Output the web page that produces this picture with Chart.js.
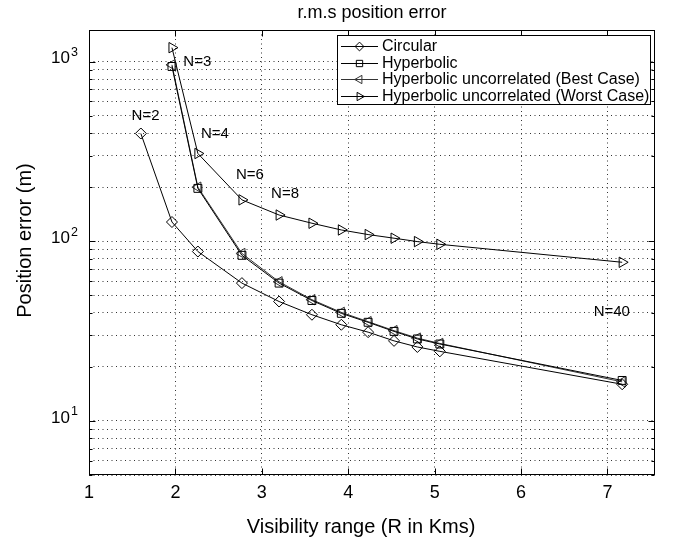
<!DOCTYPE html>
<html>
<head>
<meta charset="utf-8">
<script src="https://cdn.jsdelivr.net/npm/chart.js@4/dist/chart.umd.js"></script>
<style>
html,body{margin:0;padding:0;background:#fff;}
#wrap{width:674px;height:540px;}
</style>
</head>
<body>
<div id="wrap"><canvas id="c" width="674" height="540"></canvas></div>
<script>
// ---- data ----
const rangeKm = [1.6, 1.96, 2.26, 2.77, 3.2, 3.58, 3.92, 4.23, 4.53, 4.8, 5.06, 7.17];
const circularErr   = [398, 128, 87.7, 58.5, 46.2, 39.0, 34.3, 31.2, 27.9, 25.8, 24.4, 16.0];
const hyperbolicErr = [940, 197, 83.5, 58.5, 46.8, 39.7, 35.4, 31.5, 28.6, 26.8, 16.8];
const bestCaseErr   = [960, 200, 85.5, 59.5, 47.3, 40.2, 35.7, 31.8, 28.9, 27.0, 16.5];
const worstCaseErr  = [1196, 308, 170, 140, 126, 115.6, 109, 104, 99.6, 96.2, 76.4];
const seriesNames = ['Circular', 'Hyperbolic', 'Hyperbolic uncorrelated (Best Case)', 'Hyperbolic uncorrelated (Worst Case)'];
const xTickValues = [1, 2, 3, 4, 5, 6, 7];
const yMajorTicks = [10, 100, 1000];
const yExponents = ['1', '2', '3'];
const nLabelTexts = ['N=2', 'N=3', 'N=4', 'N=6', 'N=8', 'N=40'];
const nLabelAtX   = [1.654, 2.253, 2.458, 2.863, 3.269, 7.05];
const nLabelAtY   = [499, 1003, 398, 233, 183, 40.6];
const chartTitle = 'r.m.s position error';
const xTitle = 'Visibility range (R in Kms)';
const yTitle = 'Position error (m)';

const FONT = "'Liberation Sans', Arial, Helvetica, sans-serif";

function toPoints(xs, ys) { return ys.map((v, i) => ({ x: xs[i], y: v })); }
const xFromN3 = rangeKm.slice(1);

function mkDs(label, data, style, rot, radius, color) {
  return {
    label, data,
    borderColor: color, borderWidth: 1,
    pointStyle: style, rotation: rot, pointRadius: radius, pointHoverRadius: radius,
    pointBorderColor: color, pointBackgroundColor: 'rgba(0,0,0,0)', pointBorderWidth: 1,
    tension: 0, fill: false
  };
}

const datasets = [
  mkDs(seriesNames[0], toPoints(rangeKm, circularErr), 'rectRot', 0, 5.5, '#000'),
  mkDs(seriesNames[1], toPoints(xFromN3, hyperbolicErr), 'rect', 0, 5.6, '#000'),
  mkDs(seriesNames[2], toPoints(xFromN3, bestCaseErr), 'triangle', -90, 6, '#333'),
  mkDs(seriesNames[3], toPoints(xFromN3, worstCaseErr), 'triangle', 90, 6, '#000')
];

function drawMarker(ctx, style, rot, r, x, y) {
  ctx.beginPath();
  if (style === 'rectRot') {
    ctx.moveTo(x, y - r); ctx.lineTo(x + r, y); ctx.lineTo(x, y + r); ctx.lineTo(x - r, y); ctx.closePath();
  } else if (style === 'rect') {
    const s = r * Math.SQRT1_2;
    ctx.rect(x - s, y - s, 2 * s, 2 * s);
  } else {
    let rad = rot * Math.PI / 180;
    ctx.moveTo(x + Math.sin(rad) * r, y - Math.cos(rad) * r);
    rad += 2 * Math.PI / 3;
    ctx.lineTo(x + Math.sin(rad) * r, y - Math.cos(rad) * r);
    rad += 2 * Math.PI / 3;
    ctx.lineTo(x + Math.sin(rad) * r, y - Math.cos(rad) * r);
    ctx.closePath();
  }
  ctx.stroke();
}

const decor = {
  id: 'decor',
  afterDraw(chart) {
    const { ctx, chartArea: a, scales: { x, y } } = chart;
    ctx.save();
    // axes box
    ctx.strokeStyle = '#000'; ctx.lineWidth = 1; ctx.setLineDash([]);
    const L = Math.round(a.left) + 0.5, R = Math.round(a.right) - 0.5, T = Math.round(a.top) + 0.5, B = Math.round(a.bottom) - 0.5;
    ctx.strokeRect(L, T, R - L, B - T);
    // inward ticks
    ctx.beginPath();
    xTickValues.forEach(v => {
      const px = Math.round(x.getPixelForValue(v)) + 0.5;
      ctx.moveTo(px, B); ctx.lineTo(px, B - 6);
      ctx.moveTo(px, T); ctx.lineTo(px, T + 6);
    });
    y.ticks.forEach(t => {
      const py = Math.round(y.getPixelForValue(t.value)) + 0.5;
      const len = yMajorTicks.includes(t.value) ? 6 : 3;
      ctx.moveTo(L, py); ctx.lineTo(L + len, py);
      ctx.moveTo(R, py); ctx.lineTo(R - len, py);
    });
    ctx.stroke();
    // y tick labels 10^n
    ctx.fillStyle = '#000';
    yMajorTicks.forEach((v, i) => {
      const py = y.getPixelForValue(v);
      const ex = a.left - 19;
      ctx.font = '17px ' + FONT;
      ctx.textAlign = 'right'; ctx.textBaseline = 'middle';
      ctx.fillText('10', ex, py - 3);
      ctx.font = '12.5px ' + FONT;
      ctx.textAlign = 'left';
      ctx.fillText(yExponents[i], ex + 1, py - 9);
    });
    // N annotations
    ctx.font = '15px ' + FONT;
    ctx.textAlign = 'center'; ctx.textBaseline = 'middle';
    nLabelTexts.forEach((s, i) => {
      ctx.fillText(s, x.getPixelForValue(nLabelAtX[i]), y.getPixelForValue(nLabelAtY[i]));
    });
    // title
    ctx.font = '18px ' + FONT;
    ctx.fillText(chartTitle, (a.left + a.right) / 2, 13);
    // axis titles
    ctx.font = '20px ' + FONT;
    ctx.fillText(xTitle, (a.left + a.right) / 2 - 11, 527);
    ctx.save();
    ctx.translate(25, (a.top + a.bottom) / 2 - 12);
    ctx.rotate(-Math.PI / 2);
    ctx.fillText(yTitle, 0, 0);
    ctx.restore();
    // legend
    const lw = 313, lh = 69;
    const lx = Math.round(a.right) - 5 - lw, ly = Math.round(a.top) + 5;
    ctx.fillStyle = '#fff';
    ctx.fillRect(lx, ly, lw, lh);
    ctx.strokeStyle = '#000';
    ctx.strokeRect(lx + 0.5, ly + 0.5, lw, lh);
    ctx.font = '16px ' + FONT;
    ctx.textAlign = 'left'; ctx.textBaseline = 'middle';
    chart.data.datasets.forEach((d, i) => {
      const ry = Math.round(ly + 11 + i * 16.5) + 0.5;
      ctx.strokeStyle = d.borderColor; ctx.lineWidth = 1;
      ctx.beginPath(); ctx.moveTo(lx + 4, ry); ctx.lineTo(lx + 41, ry); ctx.stroke();
      drawMarker(ctx, d.pointStyle, d.rotation, d.pointRadius * 0.8, lx + 22.5, ry);
      ctx.fillStyle = '#000';
      ctx.fillText(d.label, lx + 45, ry);
    });
    ctx.restore();
  }
};

new Chart(document.getElementById('c'), {
  type: 'line',
  data: { datasets },
  options: {
    responsive: false,
    animation: false,
    devicePixelRatio: 1,
    layout: { padding: { top: 30, right: 19, left: 0, bottom: 0 } },
    plugins: { legend: { display: false }, title: { display: false }, tooltip: { enabled: false } },
    scales: {
      x: {
        type: 'linear', min: 1, max: 7.55,
        afterBuildTicks: s => { s.ticks = xTickValues.map(v => ({ value: v })); },
        afterFit: s => { s.height = 65; },
        grid: { color: '#333', lineWidth: 1, drawTicks: false },
        border: { display: false, dash: [1, 3.5] },
        ticks: { color: '#000', padding: 7, autoSkip: false, maxRotation: 0, font: { family: FONT, size: 18 } },
        title: { display: false }
      },
      y: {
        type: 'logarithmic', min: 5, max: 1500,
        afterBuildTicks: s => {
          const t = [];
          for (let d = 1; d <= 1000; d *= 10) for (let m = 1; m <= 9; m++) { const v = m * d; if (v >= 5 && v <= 1000) t.push({ value: v }); }
          s.ticks = t;
        },
        afterFit: s => { s.width = 89; },
        grid: { color: '#333', lineWidth: 1, drawTicks: false },
        border: { display: false, dash: [1, 3.5] },
        ticks: { display: false, autoSkip: false },
        title: { display: false }
      }
    }
  },
  plugins: [decor]
});
</script>
</body>
</html>
